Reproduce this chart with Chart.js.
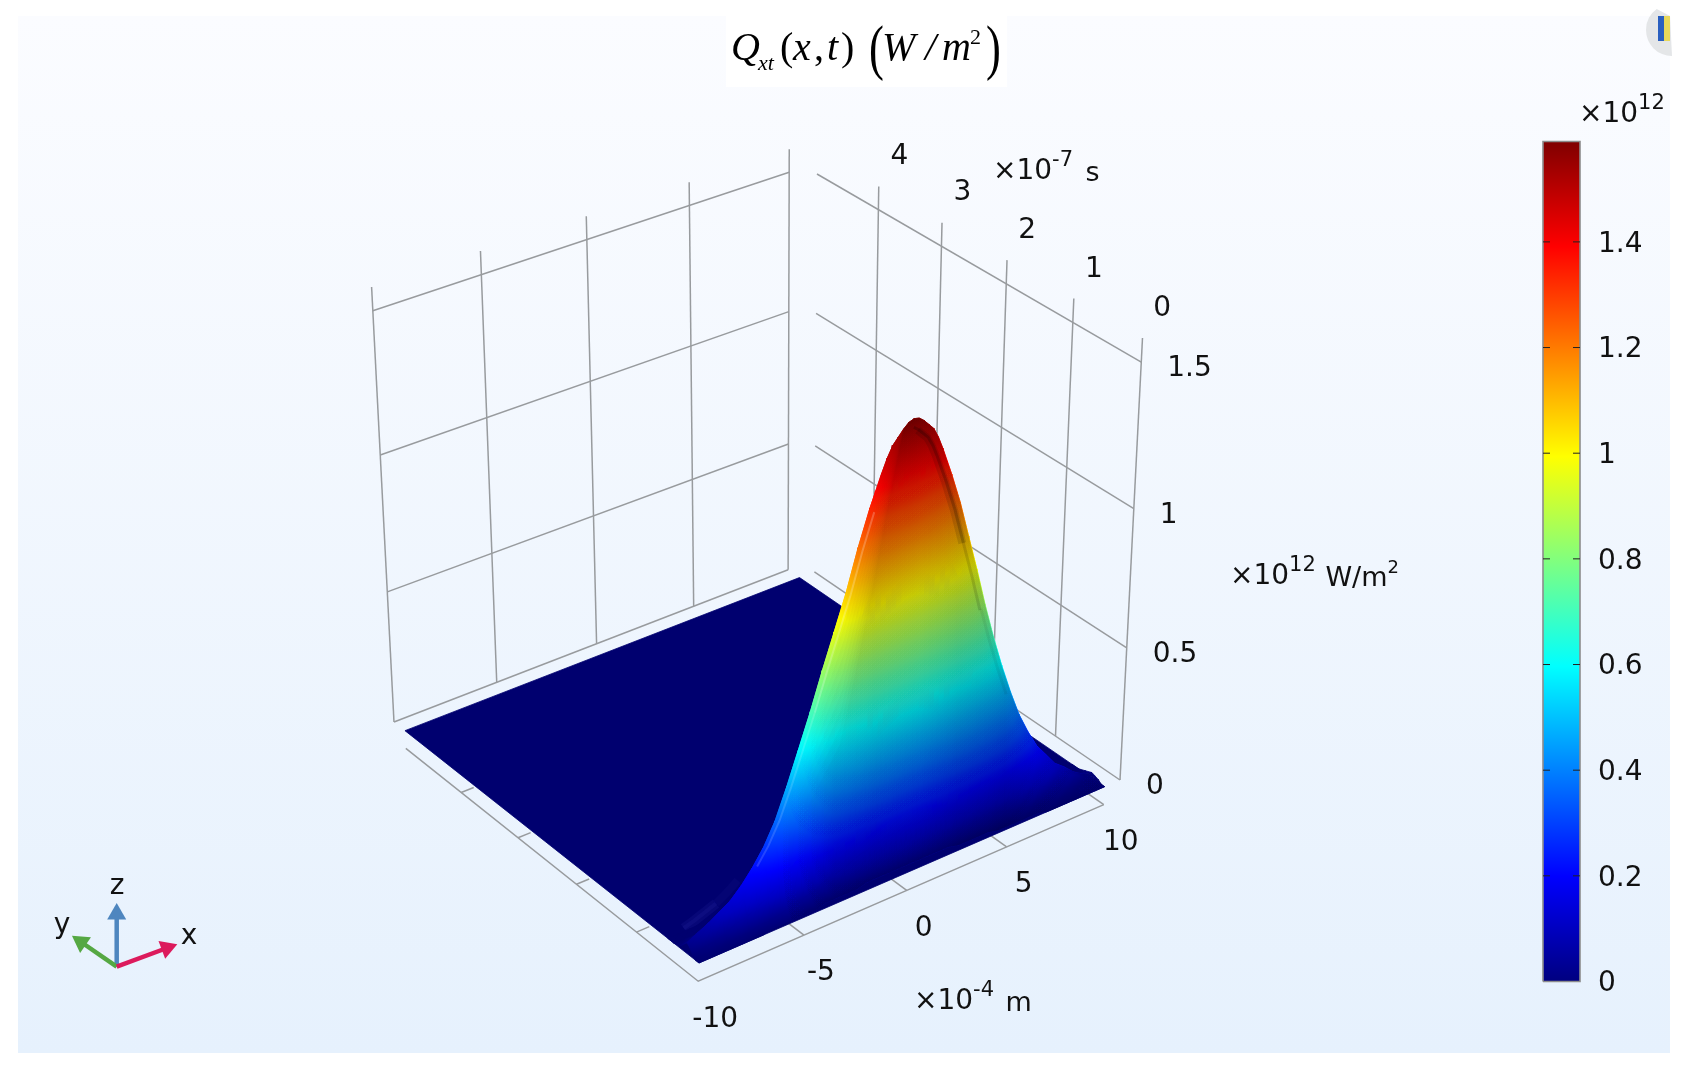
<!DOCTYPE html>
<html>
<head>
<meta charset="utf-8">
<title>Qxt(x,t)</title>
<style>
  html, body { margin: 0; padding: 0; background: #fff; }
  canvas { display: block; }
</style>
<script src="https://cdn.jsdelivr.net/npm/chart.js@4/dist/chart.umd.js"></script>
</head>
<body>
<canvas id="chart" width="1690" height="1074"></canvas>
<script>
// axis ticks
var xTicks = [-10, -5, 0, 5, 10];          // x10^-4 m
var tTicks = [0, 1, 2, 3, 4];              // x10^-7 s
var zTicks = [0, 0.5, 1, 1.5];             // x10^12 W/m2
var colorTicks = [0, 0.2, 0.4, 0.6, 0.8, 1, 1.2, 1.4];
var colorMax = 1.59;

// surface samples, Q in 10^12 W/m2
var xCols = [-10, -9.5, -9, -8.5, -8, -7.5, -7, -6.5, -6, -5.5, -5, -4.5, -4, -3.5, -3, -2.5, -2, -1.75, -1.5, -1.25, -1, -0.75, -0.5, -0.25, 0, 0.25, 0.5, 0.75, 1, 1.25, 1.5, 1.75, 2, 2.5, 3, 3.5, 4, 4.5, 5, 5.5, 6, 6.5, 7, 7.5, 8, 8.5, 9, 9.5, 10];
var tRows = [0, 0.05, 0.1, 0.15, 0.2, 0.3, 0.4, 0.5];
var qT00 = [0, 0, 0, 0, 0, 0, 0, 0.01, 0.01, 0.01, 0.01, 0.01, 0.02, 0.02, 0.02, 0.02, 0.03, 0.03, 0.03, 0.03, 0.03, 0.03, 0.03, 0.03, 0.03, 0.03, 0.03, 0.03, 0.03, 0.03, 0.03, 0.03, 0.03, 0.02, 0.02, 0.02, 0.02, 0.01, 0.01, 0.01, 0.01, 0.01, 0, 0, 0, 0, 0, 0, 0];
var qT05 = [0, 0.01, 0.01, 0.01, 0.02, 0.02, 0.03, 0.03, 0.04, 0.05, 0.06, 0.07, 0.09, 0.10, 0.11, 0.13, 0.14, 0.145, 0.15, 0.155, 0.16, 0.16, 0.16, 0.165, 0.17, 0.165, 0.16, 0.16, 0.16, 0.155, 0.15, 0.145, 0.14, 0.13, 0.12, 0.10, 0.09, 0.07, 0.06, 0.05, 0.04, 0.03, 0.02, 0.02, 0.01, 0.01, 0.01, 0, 0];
var qT10 = [0.01, 0.02, 0.03, 0.04, 0.06, 0.07, 0.09, 0.11, 0.14, 0.18, 0.22, 0.26, 0.31, 0.36, 0.40, 0.45, 0.50, 0.515, 0.53, 0.55, 0.56, 0.57, 0.58, 0.58, 0.58, 0.58, 0.58, 0.57, 0.56, 0.55, 0.53, 0.515, 0.50, 0.46, 0.41, 0.36, 0.31, 0.26, 0.21, 0.17, 0.14, 0.11, 0.08, 0.06, 0.04, 0.03, 0.02, 0.01, 0.01];
var qT15 = [0.03, 0.05, 0.07, 0.09, 0.11, 0.13, 0.17, 0.22, 0.28, 0.36, 0.46, 0.55, 0.66, 0.75, 0.84, 0.95, 1.05, 1.085, 1.12, 1.16, 1.19, 1.205, 1.22, 1.23, 1.23, 1.23, 1.22, 1.205, 1.19, 1.16, 1.12, 1.085, 1.05, 0.96, 0.86, 0.76, 0.65, 0.55, 0.45, 0.37, 0.29, 0.23, 0.17, 0.13, 0.09, 0.07, 0.05, 0.025, 0.015];
var qT20 = [0.04, 0.06, 0.08, 0.105, 0.13, 0.17, 0.22, 0.28, 0.36, 0.47, 0.59, 0.71, 0.84, 0.96, 1.08, 1.22, 1.34, 1.39, 1.44, 1.485, 1.52, 1.54, 1.56, 1.575, 1.58, 1.575, 1.56, 1.54, 1.52, 1.485, 1.44, 1.39, 1.34, 1.23, 1.10, 0.97, 0.83, 0.70, 0.58, 0.47, 0.37, 0.29, 0.22, 0.17, 0.12, 0.09, 0.055, 0.03, 0.02];
var qT30 = [0.01, 0.02, 0.03, 0.04, 0.06, 0.07, 0.09, 0.11, 0.14, 0.18, 0.22, 0.26, 0.31, 0.36, 0.40, 0.45, 0.50, 0.515, 0.53, 0.55, 0.56, 0.57, 0.58, 0.58, 0.58, 0.58, 0.58, 0.57, 0.56, 0.55, 0.53, 0.515, 0.50, 0.46, 0.41, 0.36, 0.31, 0.26, 0.21, 0.17, 0.14, 0.11, 0.08, 0.06, 0.04, 0.03, 0.02, 0.01, 0.01];
var qT40 = [0, 0, 0, 0, 0, 0, 0, 0.01, 0.01, 0.01, 0.01, 0.01, 0.02, 0.02, 0.02, 0.02, 0.03, 0.03, 0.03, 0.03, 0.03, 0.03, 0.03, 0.03, 0.03, 0.03, 0.03, 0.03, 0.03, 0.03, 0.03, 0.03, 0.03, 0.02, 0.02, 0.02, 0.02, 0.01, 0.01, 0.01, 0.01, 0.01, 0, 0, 0, 0, 0, 0, 0];
var qT50 = [0, 0, 0, 0, 0, 0, 0, 0, 0, 0, 0, 0, 0, 0, 0, 0, 0, 0, 0, 0, 0, 0, 0, 0, 0, 0, 0, 0, 0, 0, 0, 0, 0, 0, 0, 0, 0, 0, 0, 0, 0, 0, 0, 0, 0, 0, 0, 0, 0];
var qRows = [qT00, qT05, qT10, qT15, qT20, qT30, qT40, qT50];

// box limits of the 3d view and its screen corners
var xMin = -10, xBox = 10.8, tBox = 5.2, tEnd = 5, tCrest = 0.2, zBox = 1.58, zFrame = -0.07;
var corners = {
  p000: [699, 963], p100: [1120, 780], p010: [394, 722], p110: [803, 564],
  p001: [718, 515], p101: [1142.5, 338], p011: [371.6, 287], p111: [805, 144]
};

function warp(u, k) { return u * (1 + k) / (1 + k * u); }

function project(x, t, z) {
  var u = warp((x - xMin) / (xBox - xMin), 0.06);
  var v = warp(t / tBox, 0.073);
  var w = warp(z / zBox, -0.078);
  var c = corners;
  function at(i) {
    var a = c.p000[i] + (c.p100[i] - c.p000[i]) * u;
    var b = c.p010[i] + (c.p110[i] - c.p010[i]) * u;
    var d = c.p001[i] + (c.p101[i] - c.p001[i]) * u;
    var e = c.p011[i] + (c.p111[i] - c.p011[i]) * u;
    var low = a + (b - a) * v;
    var top = d + (e - d) * v;
    return low + (top - low) * w;
  }
  return { x: at(0), y: at(1) };
}

// rainbow colour table of the legend
var jetKnots = [[0, 0, 0, 128], [0.125, 0, 0, 255], [0.375, 0, 255, 255], [0.625, 255, 255, 0], [0.875, 255, 0, 0], [1, 128, 0, 0]];
function jet(q) {
  var p = Math.min(1, Math.max(0, q / colorMax));
  for (var i = 1; i < jetKnots.length; i++) {
    if (p <= jetKnots[i][0]) {
      var a = jetKnots[i - 1], b = jetKnots[i];
      var f = (p - a[0]) / (b[0] - a[0]);
      return [a[1] + (b[1] - a[1]) * f, a[2] + (b[2] - a[2]) * f, a[3] + (b[3] - a[3]) * f];
    }
  }
  return [128, 0, 0];
}

function sheetColor(q) {
  // the flat part of the sheet is a bit darker than the legend
  var s = 0.87 + 0.13 * Math.min(1, q / 0.1);
  var c = jet(q);
  return 'rgb(' + Math.round(c[0] * s) + ',' + Math.round(c[1] * s) + ',' + Math.round(c[2] * s) + ')';
}

var gradCtx = document.createElement('canvas').getContext('2d');
var sets = [];
var gridColor = '#989b9e';

function polyline(points, color, width) {
  sets.push({ data: points, showLine: true, fill: false, borderColor: color, borderWidth: width, pointRadius: 0, tension: 0, clip: false });
}
function polygon(points, fillColor, edge, edgeWidth) {
  sets.push({ data: points.concat([points[0]]), showLine: true, fill: 'shape', backgroundColor: fillColor, borderColor: edge || fillColor, borderWidth: edgeWidth === undefined ? 0.8 : edgeWidth, pointRadius: 0, tension: 0, clip: false });
}

// a triangle of the sheet: q is linear on it, so one linear gradient paints it exactly
function triangle(a, b, c) {
  var p = [project(a.x, a.t, a.q), project(b.x, b.t, b.q), project(c.x, c.t, c.q)];
  var det = (p[1].x - p[0].x) * (p[2].y - p[0].y) - (p[2].x - p[0].x) * (p[1].y - p[0].y);
  var qLo = Math.min(a.q, b.q, c.q), qHi = Math.max(a.q, b.q, c.q);
  var paint;
  if (Math.abs(det) < 0.01 || qHi - qLo < 0.002) {
    paint = sheetColor((qLo + qHi) / 2);
  } else {
    var gx = ((b.q - a.q) * (p[2].y - p[0].y) - (c.q - a.q) * (p[1].y - p[0].y)) / det;
    var gy = ((c.q - a.q) * (p[1].x - p[0].x) - (b.q - a.q) * (p[2].x - p[0].x)) / det;
    var len2 = gx * gx + gy * gy;
    var start = a.q === qLo ? p[0] : (b.q === qLo ? p[1] : p[2]);
    var k = (qHi - qLo) / len2;
    paint = gradCtx.createLinearGradient(start.x, start.y, start.x + gx * k, start.y + gy * k);
    for (var s = 0; s <= 8; s++) {
      paint.addColorStop(s / 8, sheetColor(qLo + (qHi - qLo) * s / 8));
    }
  }
  polygon(p, paint);
}

// left wall, t fixed at the back
zTicks.forEach(function (z) {
  polyline([project(xMin, tBox, z), project(10, tBox, z)], gridColor, 1.5);
});
xTicks.forEach(function (x) {
  polyline([project(x, tBox, 0), project(x, tBox, zBox)], gridColor, 1.5);
});
// right wall, x fixed at the far side
zTicks.forEach(function (z) {
  polyline([project(xBox, 0, z), project(xBox, tEnd, z)], gridColor, 1.5);
});
tTicks.forEach(function (t) {
  polyline([project(xBox, t, 0), project(xBox, t, zBox)], gridColor, 1.5);
});
// floor frame and its ticks
polyline([project(xMin, tEnd, zFrame), project(xMin, 0, zFrame), project(10, 0, zFrame)], gridColor, 1.5);
xTicks.forEach(function (x) {
  if (x > xMin) polyline([project(x, 0, zFrame), project(x, 0.25, zFrame)], gridColor, 1.5);
});
tTicks.forEach(function (t) {
  if (t > 0) polyline([project(xMin, t, zFrame), project(xMin + 0.6, t, zFrame)], gridColor, 1.5);
});

// flat part of the sheet
polygon([project(xMin, 0, 0), project(10, 0, 0), project(10, tEnd, 0), project(xMin, tEnd, 0)], '#00006f');

// faint ripple behind the foot of the pulse
var ripple = [], rippleEnd = [];
xCols.forEach(function (x, n) {
  if (x >= -9.5 && x <= -8) ripple.push(project(x, 0.42, qT20[n] * 0.6));
  if (x >= -8 && x <= -7) rippleEnd.push(project(x, 0.42, qT20[n] * 0.6));
});
polyline(ripple, 'rgba(70,70,210,0.1)', 10);
polyline(ripple, 'rgba(70,70,210,0.1)', 4);
polyline(rippleEnd, 'rgba(70,70,210,0.05)', 8);

// raised part, far rows first, right columns first
for (var j = tRows.length - 2; j >= 0; j--) {
  for (var i = xCols.length - 2; i >= 0; i--) {
    var a = { x: xCols[i], t: tRows[j], q: qRows[j][i] };
    var b = { x: xCols[i + 1], t: tRows[j], q: qRows[j][i + 1] };
    var c = { x: xCols[i + 1], t: tRows[j + 1], q: qRows[j + 1][i + 1] };
    var d = { x: xCols[i], t: tRows[j + 1], q: qRows[j + 1][i] };
    triangle(a, c, d);
    triangle(a, b, c);
  }
}

// soft light on the front of the sheet: dimmer to the right of the lit left flank
var dimStops = [[690, 0], [775, 0], [805, 0.07], [835, 0.18], [875, 0.22], [920, 0.22], [960, 0.25], [1005, 0.25], [1035, 0.15], [1105, 0.04]];
var layerTops = [0.5, 0.56, 0.62, 0.68, 0.74, 0.8, 0.85, 0.9, 0.94, 0.98];
layerTops.forEach(function (top) {
  var dim = gradCtx.createLinearGradient(690, 0, 1105, 0);
  dimStops.forEach(function (s) {
    dim.addColorStop((s[0] - 690) / 415, 'rgba(0,0,0,' + (s[1] / layerTops.length * 1.1) + ')');
  });
  var pts = [];
  xCols.forEach(function (x, n) { pts.push(project(x, 0, qT00[n])); });
  for (var n = xCols.length - 1; n >= 0; n--) {
    var f = xCols[n] >= -0.5 ? 1 : (xCols[n] <= -3 ? top : top + (1 - top) * (xCols[n] + 3) / 2.5);
    pts.push(project(xCols[n], tCrest, qT20[n] * f));
  }
  polygon(pts, dim, 'rgba(0,0,0,0)', 0);
});

// dark fold running down the right flank, thin light streak on the left one
var foldWide = [], foldCore = [], foldMid = [], foldTail = [], streak = [], streakLow = [];
xCols.forEach(function (x, n) {
  if (x >= 0.5 && x <= 3) foldWide.push(project(x - 0.3, tCrest, qT20[n] * 0.985));
  if (x >= 0.25 && x <= 3) foldCore.push(project(x - 0.25, tCrest, qT20[n] * 0.985));
  if (x >= 3 && x <= 4) foldMid.push(project(x - 0.25, tCrest, qT20[n] * 0.985));
  if (x >= 4 && x <= 5.5) foldTail.push(project(x - 0.2, tCrest, qT20[n] * 0.99));
});
xCols.forEach(function (x, n) {
  if (x >= -4.5 && x <= -2) streak.push(project(x + 0.22, tCrest, qT20[n] * 0.985));
  if (x >= -7 && x <= -4.5) streakLow.push(project(x + 0.22, tCrest, qT20[n] * 0.985));
});
polyline(foldWide, 'rgba(0,0,0,0.12)', 8);
polyline(foldCore, 'rgba(0,0,0,0.2)', 3);
polyline(foldMid, 'rgba(0,0,0,0.13)', 3);
polyline(foldTail, 'rgba(0,0,0,0.06)', 3);
polyline(streak, 'rgba(255,255,255,0.22)', 2);
polyline(streakLow, 'rgba(255,255,255,0.14)', 2);

// colour legend, pixel frame of the bar
var barLeft = 1543, barRight = 1580, barTop = 141.5, barBottom = 981.5;
function barY(v) { return barBottom + (barTop - barBottom) * v / colorMax; }
var barPaint = gradCtx.createLinearGradient(0, barBottom, 0, barTop);
jetKnots.forEach(function (k) { barPaint.addColorStop(k[0], 'rgb(' + k[1] + ',' + k[2] + ',' + k[3] + ')'); });
polygon([{ x: barLeft, y: barY(0) }, { x: barRight, y: barY(0) }, { x: barRight, y: barY(colorMax) }, { x: barLeft, y: barY(colorMax) }], barPaint, '#8c8c8c', 1.6);
colorTicks.forEach(function (v) {
  if (v === 0) return;
  polyline([{ x: barLeft, y: barY(v) }, { x: barLeft + 7, y: barY(v) }], '#222', 1);
  polyline([{ x: barRight - 7, y: barY(v) }, { x: barRight, y: barY(v) }], '#222', 1);
});

// orientation triad
function arrow(tip, color) {
  var o = { x: 116.7, y: 966.7 };
  var ang = Math.atan2(tip.x - o.x, o.y - tip.y) * 180 / Math.PI;
  sets.push({
    data: [o, tip], showLine: true, fill: false, borderColor: color, borderWidth: 4.5, tension: 0, clip: false,
    pointStyle: 'triangle', pointRadius: [0, 11], pointRotation: [0, ang], pointBackgroundColor: color, pointBorderColor: color, pointBorderWidth: 0
  });
}
arrow({ x: 116.7, y: 914 }, '#4e86bf');
arrow({ x: 81, y: 942 }, '#55a843');
arrow({ x: 167, y: 948 }, '#dc1a5c');

sets.forEach(function (s, n) { s.order = -n; });

var numberFont = '28px "DejaVu Sans"';
function put(ctx, text, x, y, font, align) {
  ctx.font = font;
  ctx.textAlign = align || 'left';
  ctx.fillText(text, x, y);
  return x + ctx.measureText(text).width;
}
// tall thin bracket of the title
function bracket(ctx, text, x, y) {
  ctx.save();
  ctx.translate(x, y);
  ctx.scale(0.72, 1);
  put(ctx, text, 0, 0, '62px "Liberation Serif"');
  ctx.restore();
}

var pagePlugin = {
  id: 'page',
  beforeDraw: function (chart) {
    var ctx = chart.ctx;
    ctx.save();
    ctx.fillStyle = '#fff';
    ctx.fillRect(0, 0, 1690, 1074);
    var bg = ctx.createLinearGradient(0, 16, 0, 1053);
    bg.addColorStop(0, '#fbfcff');
    bg.addColorStop(1, '#e6f1fd');
    ctx.fillStyle = bg;
    ctx.fillRect(18, 16, 1652, 1037);
    // corner of the toolbar icon in the screenshot
    ctx.fillStyle = '#e4e6e8';
    ctx.beginPath();
    ctx.arc(1672, 30, 26, Math.PI / 2, Math.PI * 1.3);
    ctx.lineTo(1670, 16);
    ctx.fill();
    ctx.fillStyle = '#2a5fc0';
    ctx.fillRect(1658, 16, 6, 25);
    ctx.fillStyle = '#e8d85a';
    ctx.fillRect(1664, 16, 6, 25);
    ctx.restore();
  },
  afterDraw: function (chart) {
    var ctx = chart.ctx;
    ctx.save();
    ctx.fillStyle = '#111';
    ctx.textBaseline = 'middle';
    zTicks.forEach(function (z) {
      var p = project(xBox, 0, z);
      put(ctx, String(z), p.x + 26, p.y + 7, numberFont);
    });
    tTicks.forEach(function (t) {
      var p = project(xBox, t, 1.5);
      put(ctx, String(t), p.x + 21, p.y - 53, numberFont, 'center');
    });
    xTicks.forEach(function (x) {
      var p = project(x, 0, zFrame);
      put(ctx, String(x), p.x + 17, p.y + 38, numberFont, 'center');
    });
    colorTicks.forEach(function (v) {
      put(ctx, String(v), 1598, barY(v) + 2.5, numberFont);
    });

    // exponents and units
    var sup = '21px "DejaVu Sans"', unit = '27px "DejaVu Sans"', nx;
    nx = put(ctx, '\u00d710', 993, 172, numberFont);
    nx = put(ctx, '-7', nx, 161, sup);
    put(ctx, ' s', nx + 4, 174, unit);
    nx = put(ctx, '\u00d710', 1230, 577, numberFont);
    nx = put(ctx, '12', nx, 566, sup);
    nx = put(ctx, ' W/m', nx + 1, 579, unit);
    put(ctx, '2', nx, 568, '18px "DejaVu Sans"');
    nx = put(ctx, '\u00d710', 914, 1002, numberFont);
    nx = put(ctx, '-4', nx, 991, sup);
    put(ctx, ' m', nx + 3, 1004, unit);
    nx = put(ctx, '\u00d710', 1579, 115, numberFont);
    put(ctx, '12', nx, 104, sup);

    // triad letters
    put(ctx, 'z', 117, 887, numberFont, 'center');
    put(ctx, 'y', 62, 926, numberFont, 'center');
    put(ctx, 'x', 189, 937, numberFont, 'center');

    // title in its white box
    ctx.fillStyle = '#fff';
    ctx.fillRect(726, 16, 281, 71);
    ctx.fillStyle = '#000';
    ctx.textBaseline = 'alphabetic';
    var serifI = 'italic 40px "Liberation Serif"', serif = '40px "Liberation Serif"';
    put(ctx, 'Q', 731, 60, serifI);
    put(ctx, 'xt', 758, 70, 'italic 22px "Liberation Serif"');
    put(ctx, '(', 780, 60, serif);
    put(ctx, 'x', 793, 60, serifI);
    put(ctx, ',', 814, 60, serif);
    put(ctx, 't', 827, 60, serifI);
    put(ctx, ')', 841, 60, serif);
    bracket(ctx, '(', 869, 68);
    put(ctx, 'W', 882, 60, serifI);
    put(ctx, '/', 925, 60, serifI);
    put(ctx, 'm', 942, 60, serifI);
    put(ctx, '2', 970, 44, '22px "Liberation Serif"');
    bracket(ctx, ')', 986, 68);
    ctx.restore();
  }
};

new Chart(document.getElementById('chart'), {
  type: 'scatter',
  data: { datasets: sets },
  options: {
    responsive: false,
    devicePixelRatio: 1,
    animation: false,
    events: [],
    layout: { padding: 0, autoPadding: false },
    plugins: { legend: { display: false }, tooltip: { enabled: false } },
    scales: {
      x: { type: 'linear', min: 0, max: 1690, display: false },
      y: { type: 'linear', min: 0, max: 1074, reverse: true, display: false }
    }
  },
  plugins: [pagePlugin]
});
</script>
</body>
</html>
